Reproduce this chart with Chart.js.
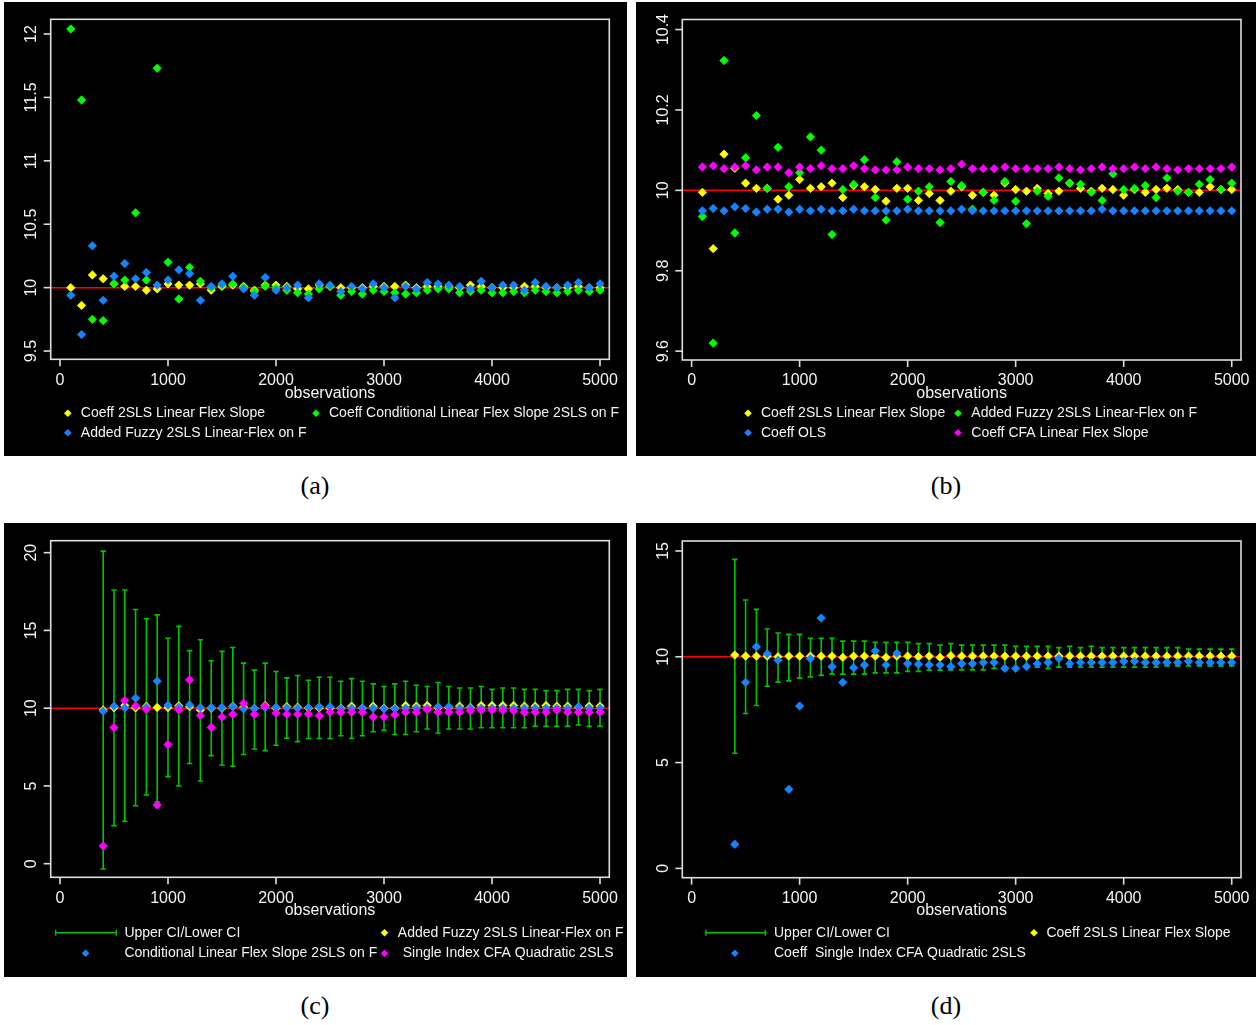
<!DOCTYPE html>
<html>
<head>
<meta charset="utf-8">
<script src="https://cdn.jsdelivr.net/npm/chart.js@4.4.1/dist/chart.umd.min.js"></script>
<style>
  html, body { margin: 0; padding: 0; background: #ffffff; }
  body { width: 1256px; height: 1025px; position: relative; overflow: hidden; }
  canvas.panel { position: absolute; background: #000000; }
  .cap { position: absolute; font-family: "Liberation Serif", "DejaVu Serif", serif; font-size: 26px;
         color: #000; transform: translate(-50%, -50%); line-height: 1; }
</style>
</head>
<body>
<canvas id="pa" class="panel" width="623" height="454" style="left:4px;top:2px"></canvas>
<canvas id="pb" class="panel" width="620" height="454" style="left:636px;top:2px"></canvas>
<canvas id="pc" class="panel" width="623" height="454" style="left:4px;top:523px"></canvas>
<canvas id="pd" class="panel" width="620" height="454" style="left:636px;top:523px"></canvas>
<div class="cap" style="left:315px;top:486px">(a)</div>
<div class="cap" style="left:946px;top:486px">(b)</div>
<div class="cap" style="left:315px;top:1006px">(c)</div>
<div class="cap" style="left:946px;top:1006px">(d)</div>
<script>
// ---------- sample sizes ----------
const obsFull = [100,200,300,400,500,600,700,800,900,1000,1100,1200,1300,1400,1500,1600,1700,1800,1900,2000,
  2100,2200,2300,2400,2500,2600,2700,2800,2900,3000,3100,3200,3300,3400,3500,3600,3700,3800,3900,4000,
  4100,4200,4300,4400,4500,4600,4700,4800,4900,5000];
const obsFrom400 = [400,500,600,700,800,900,1000,1100,1200,1300,1400,1500,1600,1700,1800,1900,2000,
  2100,2200,2300,2400,2500,2600,2700,2800,2900,3000,3100,3200,3300,3400,3500,3600,3700,3800,3900,4000,
  4100,4200,4300,4400,4500,4600,4700,4800,4900,5000];

const xTickValues = [0,1000,2000,3000,4000,5000];
const xTickLabels = ["0","1000","2000","3000","4000","5000"];
const xTitle = "observations";
const trueValue = 10;

// ---------- panel (a) ----------
const coeff2slsA = [10.00,9.86,10.10,10.07,10.03,10.01,10.01,9.98,9.99,10.03,10.02,10.02,10.03,9.98,10.01,10.02,10.01,9.98,10.02,10.02,
  10.01,9.99,9.99,10.02,10.01,10.00,10.00,10.00,10.01,10.01,10.01,10.02,10.00,10.01,10.01,10.01,10.00,10.02,10.01,10.00,
  10.00,10.00,10.01,10.01,10.00,10.00,10.00,10.01,10.00,10.00];
const conditionalA = [12.04,11.48,9.75,9.74,10.03,10.06,10.59,10.06,11.73,10.20,9.91,10.16,10.05,10.00,10.02,10.03,10.00,9.97,10.01,10.00,
  9.98,9.96,9.95,9.99,10.01,9.94,9.97,9.95,9.98,9.97,9.96,9.95,9.96,9.98,9.99,9.99,9.96,9.97,9.98,9.96,
  9.96,9.97,9.96,9.98,9.97,9.96,9.97,9.98,9.97,9.98];
const fuzzyA = [9.94,9.63,10.33,9.90,10.09,10.19,10.07,10.12,10.02,10.06,10.14,10.11,9.90,10.01,10.03,10.09,9.99,9.94,10.08,9.98,
  10.00,10.02,9.92,10.03,10.02,9.97,10.01,9.99,10.03,10.00,9.92,10.01,9.99,10.04,10.03,10.02,10.01,9.99,10.05,10.00,
  10.02,10.02,9.98,10.04,10.01,10.00,10.02,10.04,10.00,10.03];
const yTicksA = [9.5,10,10.5,11,11.5,12];
const yLabelsA = ["9.5","10","10.5","11","11.5","12"];

// ---------- panel (b) ----------
const coeff2slsB = [9.995,9.855,10.090,10.055,10.018,10.005,10.005,9.978,9.988,10.027,10.005,10.009,10.018,9.982,10.012,10.009,10.002,9.973,10.005,10.005,
  9.975,9.992,9.975,9.998,10.009,9.988,9.995,9.988,10.018,10.002,9.998,10.005,9.992,9.998,10.018,10.005,9.998,10.005,10.002,9.988,
  10.002,9.995,10.002,10.005,10.002,9.995,9.995,10.009,10.002,10.002];
const fuzzyB = [9.935,9.620,10.323,9.894,10.081,10.186,10.005,10.107,10.009,10.044,10.133,10.100,9.890,10.002,10.015,10.076,9.982,9.926,10.071,9.978,
  9.998,10.009,9.920,10.022,10.012,9.953,9.995,9.975,10.022,9.973,9.917,9.998,9.985,10.031,10.018,10.015,9.995,9.975,10.041,10.002,
  10.005,10.012,9.982,10.031,9.998,9.995,10.015,10.027,10.002,10.018];
const olsB = [9.949,9.955,9.949,9.959,9.955,9.946,9.953,9.953,9.946,9.953,9.949,9.953,9.949,9.949,9.953,9.949,9.949,9.949,9.949,9.953,
  9.949,9.949,9.949,9.949,9.953,9.949,9.949,9.949,9.949,9.949,9.949,9.949,9.949,9.949,9.949,9.949,9.949,9.953,9.949,9.949,
  9.949,9.949,9.949,9.949,9.949,9.949,9.949,9.949,9.949,9.949];
const cfaB = [10.058,10.061,10.054,10.058,10.061,10.051,10.058,10.058,10.044,10.058,10.054,10.061,10.054,10.054,10.061,10.054,10.051,10.051,10.051,10.058,
  10.054,10.054,10.051,10.054,10.065,10.054,10.054,10.054,10.058,10.054,10.054,10.054,10.054,10.058,10.054,10.051,10.054,10.058,10.054,10.054,
  10.058,10.054,10.058,10.054,10.051,10.054,10.054,10.054,10.054,10.058];
const yTicksB = [9.6,9.8,10.0,10.2,10.4];
const yLabelsB = ["9.6","9.8","10","10.2","10.4"];

// ---------- panel (c) ----------
const ciUpperC = [20.1,17.6,17.6,16.35,15.75,16.0,14.5,15.26,13.7,14.4,13.05,13.65,13.9,12.9,12.45,12.9,12.36,
  11.95,12.1,11.8,11.99,11.99,11.73,11.9,11.73,11.56,11.39,11.56,11.73,11.47,11.39,11.65,11.39,11.3,11.3,11.39,11.21,
  11.3,11.3,11.21,11.21,11.13,11.13,11.21,11.21,11.13,11.21];
const ciLowerC = [-0.34,2.45,2.73,3.73,4.42,3.97,5.6,5.0,6.44,5.32,6.95,6.35,6.27,7.02,7.38,7.27,7.62,
  8.07,7.85,8.05,8.05,8.05,8.23,8.05,8.23,8.48,8.57,8.31,8.31,8.48,8.66,8.4,8.66,8.66,8.66,8.74,8.74,
  8.74,8.74,8.74,8.83,8.83,8.83,8.83,8.92,8.83,8.83];
const fuzzyC = [9.88,10.03,10.17,10.02,10.12,10.04,10.04,10.15,10.10,9.89,10.00,10.00,10.12,10.06,9.98,10.17,10.00,
  10.10,10.06,10.00,10.02,10.00,10.00,10.13,10.00,10.13,10.00,10.00,10.17,10.13,10.17,10.03,10.05,10.13,10.05,10.17,10.17,
  10.17,10.17,10.13,10.13,10.17,10.13,10.13,10.05,10.13,10.13];
const conditionalC = [9.81,10.13,10.02,10.64,10.06,11.74,10.19,10.06,10.21,10.04,10.04,10.04,10.09,9.96,9.98,10.04,10.06,
  10.02,10.00,10.04,10.09,10.09,9.96,10.00,10.00,10.00,9.96,9.96,10.00,10.00,10.00,10.09,10.09,10.00,10.00,10.00,10.00,
  10.00,10.00,10.00,10.00,10.00,10.00,10.00,10.09,10.00,10.00];
const singleIndexC = [1.14,8.76,10.49,10.13,9.91,3.78,7.66,9.89,11.82,9.53,8.76,9.44,9.61,10.32,9.61,10.13,9.68,
  9.61,9.61,9.63,9.52,9.74,9.74,9.74,9.74,9.44,9.44,9.57,9.74,9.74,9.91,9.74,9.74,9.74,9.83,9.87,9.87,
  9.87,9.83,9.74,9.74,9.74,9.87,9.74,9.74,9.74,9.74];
const yTicksC = [0,5,10,15,20];
const yLabelsC = ["0","5","10","15","20"];

// ---------- panel (d) ----------
const ciUpperD = [14.6,12.68,12.24,11.31,11.12,11.06,11.06,10.87,10.87,10.87,10.74,10.74,10.74,10.68,10.68,10.68,10.68,
  10.62,10.62,10.55,10.62,10.55,10.55,10.55,10.55,10.55,10.49,10.49,10.49,10.49,10.43,10.49,10.43,10.49,10.43,10.43,10.43,
  10.43,10.43,10.43,10.43,10.43,10.36,10.36,10.36,10.36,10.36];
const ciLowerD = [5.44,7.32,7.7,8.61,8.8,8.86,8.99,9.05,9.12,9.18,9.18,9.18,9.18,9.24,9.24,9.24,9.31,
  9.31,9.37,9.37,9.38,9.38,9.38,9.38,9.45,9.38,9.45,9.51,9.51,9.45,9.51,9.51,9.51,9.51,9.51,9.51,9.51,
  9.51,9.51,9.51,9.57,9.57,9.57,9.57,9.57,9.57,9.57];
const coeff2slsD = [10.08,10.03,10.03,10.03,10.00,10.03,10.03,10.03,10.03,10.03,9.97,10.03,10.03,10.03,9.97,10.03,10.03,
  10.00,10.03,9.97,10.05,10.03,10.03,10.03,10.03,10.03,10.03,10.03,10.03,10.03,10.03,10.03,10.03,10.03,10.03,10.03,10.03,
  10.03,10.03,10.03,10.03,10.03,10.03,10.03,10.03,10.03,10.03];
const singleIndexD = [1.14,8.79,10.47,10.14,9.84,3.74,7.67,9.91,11.83,9.53,8.79,9.48,9.61,10.28,9.61,10.16,9.67,
  9.65,9.61,9.61,9.54,9.67,9.67,9.73,9.73,9.45,9.45,9.54,9.67,9.73,9.92,9.67,9.73,9.73,9.73,9.73,9.79,
  9.79,9.73,9.73,9.73,9.73,9.79,9.73,9.73,9.73,9.73];
const yTicksD = [0,5,10,15];
const yLabelsD = ["0","5","10","15"];

// ---------- styling ----------
const YELLOW = "#ffff00", GREEN = "#00ff00", BLUE = "#1584ff", PINK = "#ff00ff", CI_GREEN = "#00c400";
const TEXT = "#f4f4f4", FRAME = "#dedede";
const SANS = '"Liberation Sans", Arial, sans-serif';

function points(xs, ys) { return xs.map((x, i) => ({ x: x, y: ys[i] })); }

function pointSet(label, xs, ys, color, order) {
  return { type: "scatter", label, data: points(xs, ys), pointStyle: "rectRot", pointRadius: 4.2,
    backgroundColor: color, borderColor: color, borderWidth: 0.8, order };
}

// vertical interval segments, broken between observations
function intervalLine(xs, lo, hi, order) {
  const d = [];
  xs.forEach((x, i) => { d.push({ x, y: lo[i] }, { x, y: hi[i] }, { x, y: null }); });
  return { type: "line", label: "Upper CI/Lower CI", data: d, borderColor: CI_GREEN, borderWidth: 1.6,
    pointRadius: 0, spanGaps: false, fill: false, order };
}
function intervalCaps(xs, ys, order) {
  return { type: "scatter", label: "cap", data: points(xs, ys), pointStyle: "line", pointRadius: 2.7,
    borderColor: CI_GREEN, backgroundColor: CI_GREEN, borderWidth: 1.6, order };
}

function diamond(ctx, x, y, r, color) {
  ctx.fillStyle = color;
  ctx.beginPath();
  ctx.moveTo(x, y - r); ctx.lineTo(x + r, y); ctx.lineTo(x, y + r); ctx.lineTo(x - r, y);
  ctx.closePath(); ctx.fill();
}

// R-style frame, axes, reference line and legend
const rStyle = {
  id: "rStyle",
  beforeDatasetsDraw(chart, args, o) {
    const ctx = chart.ctx, a = chart.chartArea, py = chart.scales.y.getPixelForValue(trueValue);
    ctx.save();
    ctx.strokeStyle = "#ff0000"; ctx.lineWidth = 1.5;
    ctx.beginPath(); ctx.moveTo(a.left, py); ctx.lineTo(a.right, py); ctx.stroke();
    ctx.restore();
  },
  afterDraw(chart, args, o) {
    const ctx = chart.ctx, a = chart.chartArea, xs = chart.scales.x, ys = chart.scales.y;
    ctx.save();
    ctx.strokeStyle = FRAME; ctx.lineWidth = 1.6;
    ctx.strokeRect(a.left, a.top, a.right - a.left, a.bottom - a.top);
    ctx.fillStyle = TEXT;
    ctx.font = "16px " + SANS;
    ctx.textAlign = "center"; ctx.textBaseline = "middle";
    xTickValues.forEach((v, i) => {
      const px = xs.getPixelForValue(v);
      ctx.beginPath(); ctx.moveTo(px, a.bottom); ctx.lineTo(px, a.bottom + 7); ctx.stroke();
      ctx.fillText(xTickLabels[i], px, a.bottom + 21);
    });
    o.yTicks.forEach((v, i) => {
      const py = ys.getPixelForValue(v);
      ctx.beginPath(); ctx.moveTo(a.left - 7, py); ctx.lineTo(a.left, py); ctx.stroke();
      ctx.save(); ctx.translate(a.left - 19, py); ctx.rotate(-Math.PI / 2);
      ctx.fillText(o.yLabels[i], 0, 0); ctx.restore();
    });
    ctx.fillText(xTitle, (a.left + a.right) / 2, a.bottom + o.titleOffset);
    ctx.font = "14px " + SANS; ctx.textAlign = "left";
    o.legend.forEach(it => {
      const y = a.bottom + o.rows[it.row];
      if (it.ci) {
        ctx.strokeStyle = CI_GREEN; ctx.lineWidth = 1.4;
        ctx.beginPath();
        ctx.moveTo(it.x1, y); ctx.lineTo(it.x2, y);
        ctx.moveTo(it.x1, y - 3); ctx.lineTo(it.x1, y + 3);
        ctx.moveTo(it.x2, y - 3); ctx.lineTo(it.x2, y + 3);
        ctx.stroke();
      } else {
        diamond(ctx, it.mx, y, 3.8, it.color);
      }
      ctx.fillStyle = TEXT;
      ctx.fillText(it.text, it.tx, y);
    });
    ctx.restore();
  }
};

function makePanel(id, datasets, yMin, yMax, yTicks, yLabels, padding, legend, rows, titleOffset) {
  new Chart(document.getElementById(id), {
    type: "scatter",
    data: { datasets },
    options: {
      responsive: false, animation: false, devicePixelRatio: 1, events: [],
      layout: { padding },
      scales: {
        x: { type: "linear", display: false, min: -86, max: 5086 },
        y: { type: "linear", display: false, min: yMin, max: yMax }
      },
      plugins: {
        legend: { display: false }, tooltip: { enabled: false },
        rStyle: { yTicks, yLabels, legend, rows, titleOffset }
      }
    },
    plugins: [rStyle]
  });
}

makePanel("pa", [
    pointSet("Added Fuzzy 2SLS Linear-Flex on F", obsFull, fuzzyA, BLUE, 1),
    pointSet("Coeff Conditional Linear Flex Slope 2SLS on F", obsFull, conditionalA, GREEN, 2),
    pointSet("Coeff 2SLS Linear Flex Slope", obsFull, coeff2slsA, YELLOW, 3)
  ], 9.435, 12.116, yTicksA, yLabelsA,
  { left: 46.7, right: 17.7, top: 17.3, bottom: 96.7 },
  [
    { color: YELLOW, mx: 63.8, tx: 76.8, row: 0, text: "Coeff 2SLS Linear Flex Slope" },
    { color: GREEN, mx: 312, tx: 325, row: 0, text: "Coeff Conditional Linear Flex Slope 2SLS on F" },
    { color: BLUE, mx: 63.8, tx: 76.8, row: 1, text: "Added Fuzzy 2SLS Linear-Flex on F" }
  ], [54, 73.4], 34);

makePanel("pb", [
    pointSet("Coeff CFA Linear Flex Slope", obsFull, cfaB, PINK, 1),
    pointSet("Coeff OLS", obsFull, olsB, BLUE, 2),
    pointSet("Added Fuzzy 2SLS Linear-Flex on F", obsFull, fuzzyB, GREEN, 3),
    pointSet("Coeff 2SLS Linear Flex Slope", obsFull, coeff2slsB, YELLOW, 4)
  ], 9.578, 10.425, yTicksB, yLabelsB,
  { left: 46.3, right: 15, top: 17.5, bottom: 96 },
  [
    { color: YELLOW, mx: 112, tx: 125, row: 0, text: "Coeff 2SLS Linear Flex Slope" },
    { color: GREEN, mx: 322, tx: 335.3, row: 0, text: "Added Fuzzy 2SLS Linear-Flex on F" },
    { color: BLUE, mx: 112, tx: 125, row: 1, text: "Coeff OLS" },
    { color: PINK, mx: 322, tx: 335.3, row: 1, text: "Coeff CFA Linear Flex Slope" }
  ], [53.3, 72.7], 34);

makePanel("pc", [
    pointSet("Single Index CFA Quadratic 2SLS", obsFrom400, singleIndexC, PINK, 1),
    pointSet("Conditional Linear Flex Slope 2SLS on F", obsFrom400, conditionalC, BLUE, 2),
    pointSet("Added Fuzzy 2SLS Linear-Flex on F", obsFrom400, fuzzyC, YELLOW, 3),
    intervalCaps(obsFrom400, ciUpperC, 4),
    intervalCaps(obsFrom400, ciLowerC, 4),
    intervalLine(obsFrom400, ciLowerC, ciUpperC, 5)
  ], -0.875, 20.77, yTicksC, yLabelsC,
  { left: 46.7, right: 17.7, top: 17.7, bottom: 99.7 },
  [
    { ci: true, x1: 51.7, x2: 112.3, tx: 120.4, row: 0, text: "Upper CI/Lower CI" },
    { color: YELLOW, mx: 380.5, tx: 393.8, row: 0, text: "Added Fuzzy 2SLS Linear-Flex on F" },
    { color: BLUE, mx: 81.6, tx: 120.4, row: 1, text: "Conditional Linear Flex Slope 2SLS on F" },
    { color: PINK, mx: 380.5, tx: 398.7, row: 1, text: "Single Index CFA Quadratic 2SLS" }
  ], [55.4, 76], 33.4);

makePanel("pd", [
    pointSet("Coeff  Single Index CFA Quadratic 2SLS", obsFrom400, singleIndexD, BLUE, 1),
    pointSet("Coeff 2SLS Linear Flex Slope", obsFrom400, coeff2slsD, YELLOW, 2),
    intervalCaps(obsFrom400, ciUpperD, 3),
    intervalCaps(obsFrom400, ciLowerD, 3),
    intervalLine(obsFrom400, ciLowerD, ciUpperD, 4)
  ], -0.44, 15.47, yTicksD, yLabelsD,
  { left: 46.3, right: 15, top: 18, bottom: 99.3 },
  [
    { ci: true, x1: 70, x2: 129.3, tx: 138, row: 0, text: "Upper CI/Lower CI" },
    { color: YELLOW, mx: 398, tx: 410.4, row: 0, text: "Coeff 2SLS Linear Flex Slope" },
    { color: BLUE, mx: 98.9, tx: 138, row: 1, text: "Coeff  Single Index CFA Quadratic 2SLS" }
  ], [55, 75.6], 33);
</script>
</body>
</html>
